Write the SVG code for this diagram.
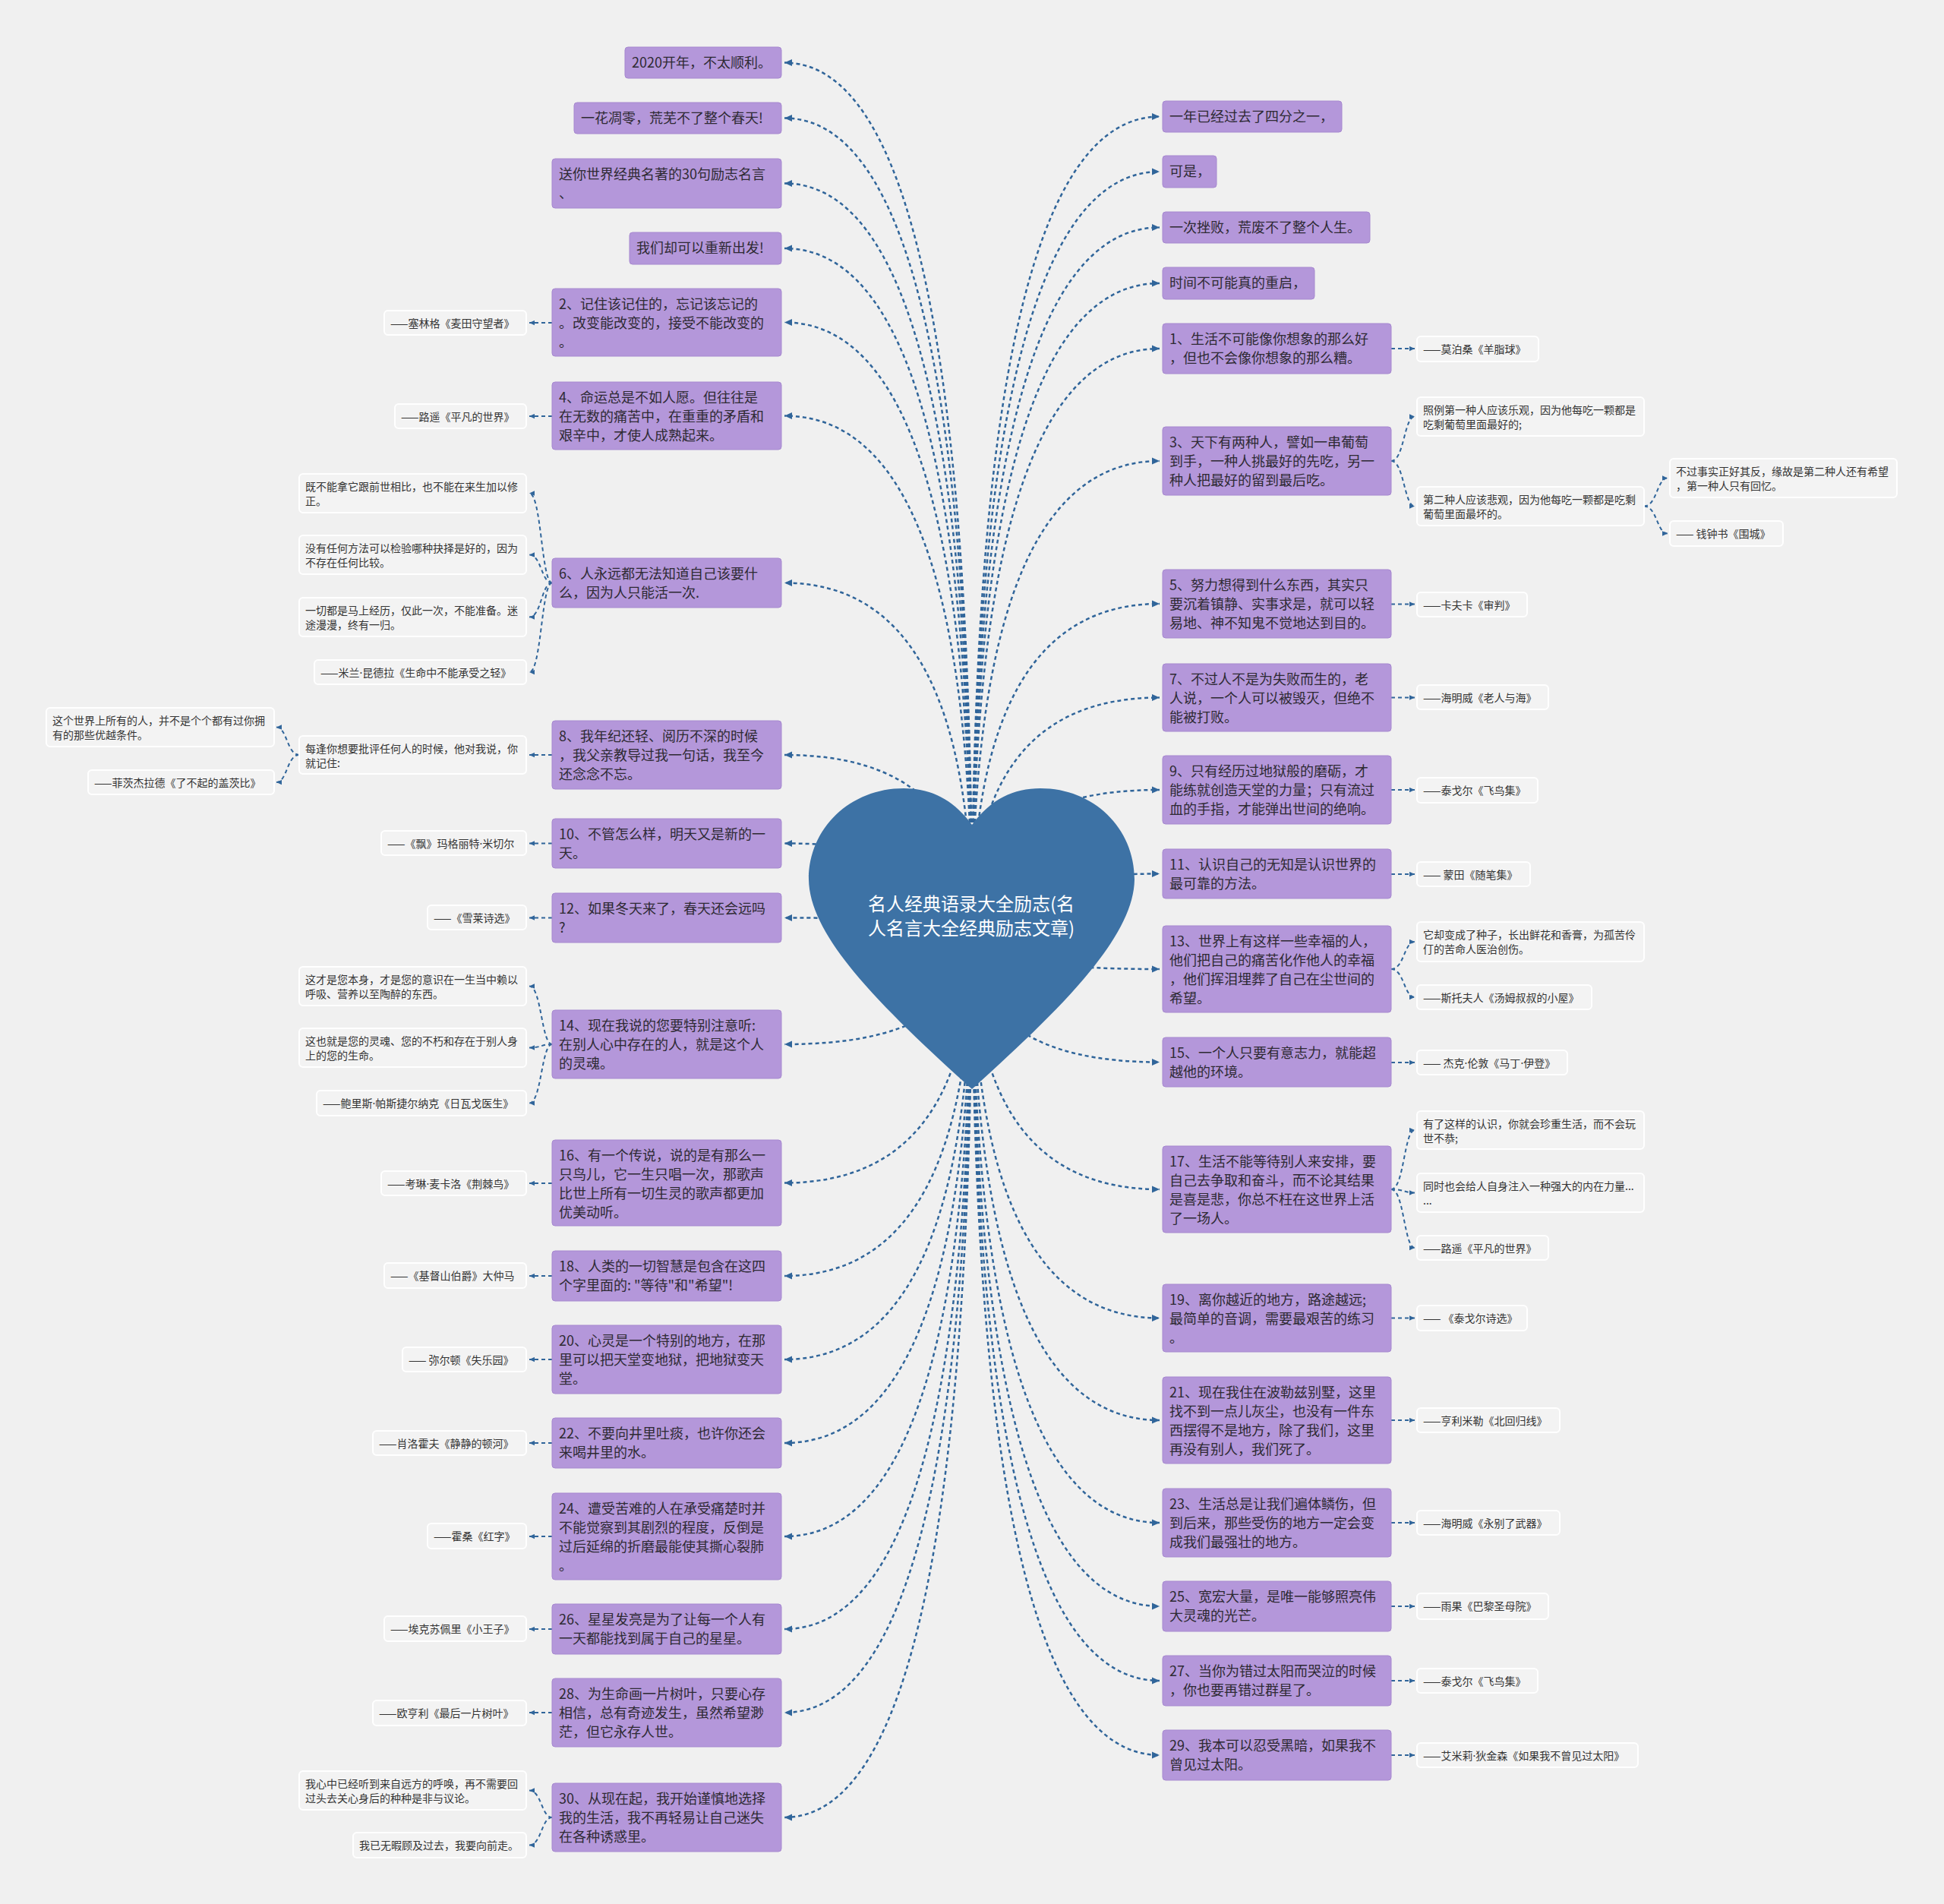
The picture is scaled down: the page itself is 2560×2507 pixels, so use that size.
<svg xmlns="http://www.w3.org/2000/svg" width="2560" height="2507" viewBox="0 0 2560 2507">
<defs>
<style>
.bg{fill:#f0f0f0}
.p{fill:#b497da;stroke:#a688cf;stroke-width:1}
.w{fill:#f3f3f3;stroke:#ffffff;stroke-width:2}
.pt{font-family:"Noto Sans CJK SC","Noto Sans",sans-serif;font-size:18px;fill:#2e2a33}
.wt{font-family:"Noto Sans CJK SC","Noto Sans",sans-serif;font-size:14px;fill:#333333}
.d{font-family:"Noto Sans","DejaVu Sans",sans-serif}
.rt{font-family:"Noto Sans CJK SC","Noto Sans",sans-serif;font-size:24px;fill:#ffffff;text-anchor:middle}
.c1{fill:none;stroke:#30659a;stroke-width:2.5;stroke-dasharray:5 4;marker-end:url(#a1)}
.c2{fill:none;stroke:#30659a;stroke-width:2;stroke-dasharray:5 4;marker-end:url(#a2)}
</style>
<marker id="a1" markerUnits="userSpaceOnUse" markerWidth="10" markerHeight="10" viewBox="0 0 10 10" refX="10" refY="5" orient="auto"><path d="M0,0.5 L10,5 L0,9.5 Z" fill="#30659a"/></marker>
<marker id="a2" markerUnits="userSpaceOnUse" markerWidth="7" markerHeight="7" viewBox="0 0 10 10" refX="10" refY="5" orient="auto"><path d="M0,0.5 L10,5 L0,9.5 Z" fill="#30659a"/></marker>
</defs>
<rect class="bg" x="0" y="0" width="2560" height="2507"/>
<g id="connectors">
<path class="c1" d="M1280,1227 Q1280,82.5 1033,82.5"/>
<path class="c1" d="M1280,1227 Q1280,155.5 1033,155.5"/>
<path class="c1" d="M1280,1227 Q1280,241.5 1033,241.5"/>
<path class="c1" d="M1280,1227 Q1280,327 1033,327"/>
<path class="c1" d="M1280,1227 Q1280,424.5 1033,424.5"/>
<path class="c1" d="M1280,1227 Q1280,547.5 1033,547.5"/>
<path class="c1" d="M1280,1227 Q1280,767.5 1033,767.5"/>
<path class="c1" d="M1280,1227 Q1280,994 1033,994"/>
<path class="c1" d="M1280,1227 Q1280,1110.5 1033,1110.5"/>
<path class="c1" d="M1280,1227 Q1280,1208.5 1033,1208.5"/>
<path class="c1" d="M1280,1227 Q1280,1375 1033,1375"/>
<path class="c1" d="M1280,1227 Q1280,1557.5 1033,1557.5"/>
<path class="c1" d="M1280,1227 Q1280,1680 1033,1680"/>
<path class="c1" d="M1280,1227 Q1280,1790 1033,1790"/>
<path class="c1" d="M1280,1227 Q1280,1900 1033,1900"/>
<path class="c1" d="M1280,1227 Q1280,2023 1033,2023"/>
<path class="c1" d="M1280,1227 Q1280,2145 1033,2145"/>
<path class="c1" d="M1280,1227 Q1280,2255 1033,2255"/>
<path class="c1" d="M1280,1227 Q1280,2393 1033,2393"/>
<path class="c1" d="M1280,1227 Q1280,153.5 1527,153.5"/>
<path class="c1" d="M1280,1227 Q1280,226 1527,226"/>
<path class="c1" d="M1280,1227 Q1280,299.5 1527,299.5"/>
<path class="c1" d="M1280,1227 Q1280,373 1527,373"/>
<path class="c1" d="M1280,1227 Q1280,459 1527,459"/>
<path class="c1" d="M1280,1227 Q1280,607 1527,607"/>
<path class="c1" d="M1280,1227 Q1280,795 1527,795"/>
<path class="c1" d="M1280,1227 Q1280,918.5 1527,918.5"/>
<path class="c1" d="M1280,1227 Q1280,1040 1527,1040"/>
<path class="c1" d="M1280,1227 Q1280,1150.5 1527,1150.5"/>
<path class="c1" d="M1280,1227 Q1280,1276 1527,1276"/>
<path class="c1" d="M1280,1227 Q1280,1398.5 1527,1398.5"/>
<path class="c1" d="M1280,1227 Q1280,1566 1527,1566"/>
<path class="c1" d="M1280,1227 Q1280,1735.5 1527,1735.5"/>
<path class="c1" d="M1280,1227 Q1280,1870 1527,1870"/>
<path class="c1" d="M1280,1227 Q1280,2005 1527,2005"/>
<path class="c1" d="M1280,1227 Q1280,2115 1527,2115"/>
<path class="c1" d="M1280,1227 Q1280,2213 1527,2213"/>
<path class="c1" d="M1280,1227 Q1280,2311 1527,2311"/>
<path class="c2" d="M727,425 L697,425"/>
<path class="c2" d="M727,548 L697,548"/>
<path class="c2" d="M727,767.5 C713,767.5 713,649.5 697,649.5"/>
<path class="c2" d="M727,767.5 C713,767.5 713,730.5 697,730.5"/>
<path class="c2" d="M727,767.5 C713,767.5 713,812.5 697,812.5"/>
<path class="c2" d="M727,767.5 C713,767.5 713,885 697,885"/>
<path class="c2" d="M727,994 L697,994"/>
<path class="c2" d="M394,994 C378,994 378,957.5 364,957.5"/>
<path class="c2" d="M394,994 C378,994 378,1030 364,1030"/>
<path class="c2" d="M727,1110.5 L697,1110.5"/>
<path class="c2" d="M727,1208.5 L697,1208.5"/>
<path class="c2" d="M727,1375 C713,1375 713,1298.5 697,1298.5"/>
<path class="c2" d="M727,1375 C713,1375 713,1379.5 697,1379.5"/>
<path class="c2" d="M727,1375 C713,1375 713,1452.5 697,1452.5"/>
<path class="c2" d="M727,1558 L697,1558"/>
<path class="c2" d="M727,1680 L697,1680"/>
<path class="c2" d="M727,1790 L697,1790"/>
<path class="c2" d="M727,1900 L697,1900"/>
<path class="c2" d="M727,2023 L697,2023"/>
<path class="c2" d="M727,2145 L697,2145"/>
<path class="c2" d="M727,2255 L697,2255"/>
<path class="c2" d="M727,2393 C713,2393 713,2357.5 697,2357.5"/>
<path class="c2" d="M727,2393 C713,2393 713,2429.5 697,2429.5"/>
<path class="c2" d="M1832,459 L1863,459"/>
<path class="c2" d="M1832,607 C1849,607 1849,548.5 1863,548.5"/>
<path class="c2" d="M1832,607 C1849,607 1849,666.5 1863,666.5"/>
<path class="c2" d="M2165,666.5 C2182,666.5 2182,629.5 2196,629.5"/>
<path class="c2" d="M2165,666.5 C2182,666.5 2182,702.5 2196,702.5"/>
<path class="c2" d="M1832,795.5 L1863,795.5"/>
<path class="c2" d="M1832,918.5 L1863,918.5"/>
<path class="c2" d="M1832,1040 L1863,1040"/>
<path class="c2" d="M1832,1151 L1863,1151"/>
<path class="c2" d="M1832,1276 C1849,1276 1849,1240 1863,1240"/>
<path class="c2" d="M1832,1276 C1849,1276 1849,1313 1863,1313"/>
<path class="c2" d="M1832,1399 L1863,1399"/>
<path class="c2" d="M1832,1566 C1849,1566 1849,1488 1863,1488"/>
<path class="c2" d="M1832,1566 C1849,1566 1849,1570.5 1863,1570.5"/>
<path class="c2" d="M1832,1566 C1849,1566 1849,1643 1863,1643"/>
<path class="c2" d="M1832,1735.5 L1863,1735.5"/>
<path class="c2" d="M1832,1870 L1863,1870"/>
<path class="c2" d="M1832,2005 L1863,2005"/>
<path class="c2" d="M1832,2115 L1863,2115"/>
<path class="c2" d="M1832,2213 L1863,2213"/>
<path class="c2" d="M1832,2311 L1863,2311"/>
</g>
<g id="root">
<path d="M1280,1086 C1255,1052 1225,1038 1190,1038 C1120,1038 1065,1090 1065,1158 C1066,1235 1165,1330 1280,1434 C1395,1330 1493,1235 1494,1158 C1494,1090 1440,1038 1370,1038 C1335,1038 1305,1052 1280,1086 Z" fill="#3d72a5"/>
<text class="rt"><tspan x="1279" y="1199">名人经典语录大全励志(名</tspan><tspan x="1279" y="1231">人名言大全经典励志文章)</tspan></text>
</g>
<g id="L1"><rect class="p" x="823" y="62" width="206" height="41" rx="4"/><text class="pt"><tspan x="832" y="89">2020开年，不太顺利。</tspan></text></g>
<g id="L2"><rect class="p" x="756" y="135" width="273" height="41" rx="4"/><text class="pt"><tspan x="765" y="162">一花凋零，荒芜不了整个春天!</tspan></text></g>
<g id="L3"><rect class="p" x="727" y="209" width="302" height="65" rx="4"/><text class="pt"><tspan x="736" y="236">送你世界经典名著的30句励志名言</tspan><tspan x="736" y="261">、</tspan></text></g>
<g id="L4"><rect class="p" x="829" y="306" width="200" height="42" rx="4"/><text class="pt"><tspan x="838" y="333">我们却可以重新出发!</tspan></text></g>
<g id="L5"><rect class="p" x="727" y="380" width="302" height="89" rx="4"/><text class="pt"><tspan x="736" y="407">2、记住该记住的，忘记该忘记的</tspan><tspan x="736" y="432">。改变能改变的，接受不能改变的</tspan><tspan x="736" y="457">。</tspan></text></g>
<g id="L5c"><rect class="w" x="506" y="409" width="187" height="32" rx="5"/><text class="wt"><tspan x="514" y="430.5">——塞林格《麦田守望者》</tspan></text></g>
<g id="L6"><rect class="p" x="727" y="503" width="302" height="89" rx="4"/><text class="pt"><tspan x="736" y="530">4、命运总是不如人愿。但往往是</tspan><tspan x="736" y="555">在无数的痛苦中，在重重的矛盾和</tspan><tspan x="736" y="580">艰辛中，才使人成熟起来。</tspan></text></g>
<g id="L6c"><rect class="w" x="520" y="532" width="173" height="32" rx="5"/><text class="wt"><tspan x="528" y="553.5">——路遥《平凡的世界》</tspan></text></g>
<g id="L7"><rect class="p" x="727" y="735" width="302" height="65" rx="4"/><text class="pt"><tspan x="736" y="762">6、人永远都无法知道自己该要什</tspan><tspan x="736" y="787">么，因为人只能活一次.</tspan></text></g>
<g id="L7c1"><rect class="w" x="394" y="624" width="299" height="51" rx="5"/><text class="wt"><tspan x="402" y="646">既不能拿它跟前世相比，也不能在来生加以修</tspan><tspan x="402" y="665">正。</tspan></text></g>
<g id="L7c2"><rect class="w" x="394" y="705" width="299" height="51" rx="5"/><text class="wt"><tspan x="402" y="727">没有任何方法可以检验哪种抉择是好的，因为</tspan><tspan x="402" y="746">不存在任何比较。</tspan></text></g>
<g id="L7c3"><rect class="w" x="394" y="787" width="299" height="51" rx="5"/><text class="wt"><tspan x="402" y="809">一切都是马上经历，仅此一次，不能准备。迷</tspan><tspan x="402" y="828">途漫漫，终有一归。</tspan></text></g>
<g id="L7c4"><rect class="w" x="414" y="869" width="279" height="32" rx="5"/><text class="wt" x="422" y="890.5">——米兰<tspan class="d">·</tspan>昆德拉《生命中不能承受之轻》</text></g>
<g id="L8"><rect class="p" x="727" y="949" width="302" height="90" rx="4"/><text class="pt"><tspan x="736" y="976">8、我年纪还轻、阅历不深的时候</tspan><tspan x="736" y="1001">，我父亲教导过我一句话，我至今</tspan><tspan x="736" y="1026">还念念不忘。</tspan></text></g>
<g id="L8c"><rect class="w" x="394" y="969" width="299" height="50" rx="5"/><text class="wt"><tspan x="402" y="991">每逢你想要批评任何人的时候，他对我说，你</tspan><tspan x="402" y="1010">就记住:</tspan></text></g>
<g id="L8g1"><rect class="w" x="61" y="932" width="300" height="51" rx="5"/><text class="wt"><tspan x="69" y="954">这个世界上所有的人，并不是个个都有过你拥</tspan><tspan x="69" y="973">有的那些优越条件。</tspan></text></g>
<g id="L8g2"><rect class="w" x="116" y="1014" width="245" height="32" rx="5"/><text class="wt"><tspan x="124" y="1035.5">——菲茨杰拉德《了不起的盖茨比》</tspan></text></g>
<g id="L9"><rect class="p" x="727" y="1078" width="302" height="65" rx="4"/><text class="pt"><tspan x="736" y="1105">10、不管怎么样，明天又是新的一</tspan><tspan x="736" y="1130">天。</tspan></text></g>
<g id="L9c"><rect class="w" x="502" y="1094" width="191" height="32" rx="5"/><text class="wt" x="510" y="1115.5">——《飘》玛格丽特<tspan class="d">·</tspan>米切尔</text></g>
<g id="L10"><rect class="p" x="727" y="1176" width="302" height="65" rx="4"/><text class="pt"><tspan x="736" y="1203">12、如果冬天来了，春天还会远吗</tspan><tspan x="736" y="1228">?</tspan></text></g>
<g id="L10c"><rect class="w" x="563" y="1192" width="130" height="32" rx="5"/><text class="wt"><tspan x="571" y="1213.5">——《雪莱诗选》</tspan></text></g>
<g id="L11"><rect class="p" x="727" y="1330" width="302" height="90" rx="4"/><text class="pt"><tspan x="736" y="1357">14、现在我说的您要特别注意听:</tspan><tspan x="736" y="1382">在别人心中存在的人，就是这个人</tspan><tspan x="736" y="1407">的灵魂。</tspan></text></g>
<g id="L11c1"><rect class="w" x="394" y="1273" width="299" height="51" rx="5"/><text class="wt"><tspan x="402" y="1295">这才是您本身，才是您的意识在一生当中赖以</tspan><tspan x="402" y="1314">呼吸、营养以至陶醉的东西。</tspan></text></g>
<g id="L11c2"><rect class="w" x="394" y="1354" width="299" height="51" rx="5"/><text class="wt"><tspan x="402" y="1376">这也就是您的灵魂、您的不朽和存在于别人身</tspan><tspan x="402" y="1395">上的您的生命。</tspan></text></g>
<g id="L11c3"><rect class="w" x="417" y="1436" width="276" height="33" rx="5"/><text class="wt" x="425" y="1458">——鲍里斯<tspan class="d">·</tspan>帕斯捷尔纳克《日瓦戈医生》</text></g>
<g id="L12"><rect class="p" x="727" y="1501" width="302" height="113" rx="4"/><text class="pt"><tspan x="736" y="1528">16、有一个传说，说的是有那么一</tspan><tspan x="736" y="1553">只鸟儿，它一生只唱一次，那歌声</tspan><tspan x="736" y="1578">比世上所有一切生灵的歌声都更加</tspan><tspan x="736" y="1603">优美动听。</tspan></text></g>
<g id="L12c"><rect class="w" x="502" y="1542" width="191" height="32" rx="5"/><text class="wt" x="510" y="1563.5">——考琳<tspan class="d">·</tspan>麦卡洛《荆棘鸟》</text></g>
<g id="L13"><rect class="p" x="727" y="1647" width="302" height="66" rx="4"/><text class="pt"><tspan x="736" y="1674">18、人类的一切智慧是包含在这四</tspan><tspan x="736" y="1699">个字里面的: "等待"和"希望"!</tspan></text></g>
<g id="L13c"><rect class="w" x="506" y="1663" width="187" height="33" rx="5"/><text class="wt"><tspan x="514" y="1685">——《基督山伯爵》大仲马</tspan></text></g>
<g id="L14"><rect class="p" x="727" y="1745" width="302" height="90" rx="4"/><text class="pt"><tspan x="736" y="1772">20、心灵是一个特别的地方，在那</tspan><tspan x="736" y="1797">里可以把天堂变地狱，把地狱变天</tspan><tspan x="736" y="1822">堂。</tspan></text></g>
<g id="L14c"><rect class="w" x="530" y="1774" width="163" height="32" rx="5"/><text class="wt"><tspan x="538" y="1795.5">—— 弥尔顿《失乐园》</tspan></text></g>
<g id="L15"><rect class="p" x="727" y="1867" width="302" height="66" rx="4"/><text class="pt"><tspan x="736" y="1894">22、不要向井里吐痰，也许你还会</tspan><tspan x="736" y="1919">来喝井里的水。</tspan></text></g>
<g id="L15c"><rect class="w" x="491" y="1884" width="202" height="32" rx="5"/><text class="wt"><tspan x="499" y="1905.5">——肖洛霍夫《静静的顿河》</tspan></text></g>
<g id="L16"><rect class="p" x="727" y="1966" width="302" height="114" rx="4"/><text class="pt"><tspan x="736" y="1993">24、遭受苦难的人在承受痛楚时并</tspan><tspan x="736" y="2018">不能觉察到其剧烈的程度，反倒是</tspan><tspan x="736" y="2043">过后延绵的折磨最能使其撕心裂肺</tspan><tspan x="736" y="2068">。</tspan></text></g>
<g id="L16c"><rect class="w" x="563" y="2006" width="130" height="33" rx="5"/><text class="wt"><tspan x="571" y="2028">——霍桑《红字》</tspan></text></g>
<g id="L17"><rect class="p" x="727" y="2112" width="302" height="66" rx="4"/><text class="pt"><tspan x="736" y="2139">26、星星发亮是为了让每一个人有</tspan><tspan x="736" y="2164">一天都能找到属于自己的星星。</tspan></text></g>
<g id="L17c"><rect class="w" x="506" y="2128" width="187" height="33" rx="5"/><text class="wt"><tspan x="514" y="2150">——埃克苏佩里《小王子》</tspan></text></g>
<g id="L18"><rect class="p" x="727" y="2210" width="302" height="90" rx="4"/><text class="pt"><tspan x="736" y="2237">28、为生命画一片树叶，只要心存</tspan><tspan x="736" y="2262">相信，总有奇迹发生，虽然希望渺</tspan><tspan x="736" y="2287">茫，但它永存人世。</tspan></text></g>
<g id="L18c"><rect class="w" x="491" y="2239" width="202" height="33" rx="5"/><text class="wt"><tspan x="499" y="2261">——欧亨利《最后一片树叶》</tspan></text></g>
<g id="L19"><rect class="p" x="727" y="2348" width="302" height="90" rx="4"/><text class="pt"><tspan x="736" y="2375">30、从现在起，我开始谨慎地选择</tspan><tspan x="736" y="2400">我的生活，我不再轻易让自己迷失</tspan><tspan x="736" y="2425">在各种诱惑里。</tspan></text></g>
<g id="L19c1"><rect class="w" x="394" y="2332" width="299" height="51" rx="5"/><text class="wt"><tspan x="402" y="2354">我心中已经听到来自远方的呼唤，再不需要回</tspan><tspan x="402" y="2373">过头去关心身后的种种是非与议论。</tspan></text></g>
<g id="L19c2"><rect class="w" x="465" y="2413" width="228" height="33" rx="5"/><text class="wt"><tspan x="473" y="2435">我已无暇顾及过去，我要向前走。</tspan></text></g>
<g id="R1"><rect class="p" x="1531" y="133" width="236" height="41" rx="4"/><text class="pt"><tspan x="1540" y="160">一年已经过去了四分之一，</tspan></text></g>
<g id="R2"><rect class="p" x="1531" y="205" width="71" height="42" rx="4"/><text class="pt"><tspan x="1540" y="232">可是，</tspan></text></g>
<g id="R3"><rect class="p" x="1531" y="279" width="273" height="41" rx="4"/><text class="pt"><tspan x="1540" y="306">一次挫败，荒废不了整个人生。</tspan></text></g>
<g id="R4"><rect class="p" x="1531" y="352" width="200" height="42" rx="4"/><text class="pt"><tspan x="1540" y="379">时间不可能真的重启，</tspan></text></g>
<g id="R5"><rect class="p" x="1531" y="426" width="301" height="66" rx="4"/><text class="pt"><tspan x="1540" y="453">1、生活不可能像你想象的那么好</tspan><tspan x="1540" y="478">，但也不会像你想象的那么糟。</tspan></text></g>
<g id="R5c"><rect class="w" x="1866" y="443" width="160" height="33" rx="5"/><text class="wt"><tspan x="1874" y="465">——莫泊桑《羊脂球》</tspan></text></g>
<g id="R6"><rect class="p" x="1531" y="562" width="301" height="90" rx="4"/><text class="pt"><tspan x="1540" y="589">3、天下有两种人，譬如一串葡萄</tspan><tspan x="1540" y="614">到手，一种人挑最好的先吃，另一</tspan><tspan x="1540" y="639">种人把最好的留到最后吃。</tspan></text></g>
<g id="R6ca"><rect class="w" x="1866" y="523" width="299" height="51" rx="5"/><text class="wt"><tspan x="1874" y="545">照例第一种人应该乐观，因为他每吃一颗都是</tspan><tspan x="1874" y="564">吃剩葡萄里面最好的;</tspan></text></g>
<g id="R6cb"><rect class="w" x="1866" y="641" width="299" height="51" rx="5"/><text class="wt"><tspan x="1874" y="663">第二种人应该悲观，因为他每吃一颗都是吃剩</tspan><tspan x="1874" y="682">葡萄里面最坏的。</tspan></text></g>
<g id="R6g1"><rect class="w" x="2199" y="604" width="299" height="51" rx="5"/><text class="wt"><tspan x="2207" y="626">不过事实正好其反，缘故是第二种人还有希望</tspan><tspan x="2207" y="645">，第一种人只有回忆。</tspan></text></g>
<g id="R6g2"><rect class="w" x="2199" y="686" width="149" height="33" rx="5"/><text class="wt"><tspan x="2207" y="708">—— 钱钟书《围城》</tspan></text></g>
<g id="R7"><rect class="p" x="1531" y="750" width="301" height="90" rx="4"/><text class="pt"><tspan x="1540" y="777">5、努力想得到什么东西，其实只</tspan><tspan x="1540" y="802">要沉着镇静、实事求是，就可以轻</tspan><tspan x="1540" y="827">易地、神不知鬼不觉地达到目的。</tspan></text></g>
<g id="R7c"><rect class="w" x="1866" y="780" width="145" height="32" rx="5"/><text class="wt"><tspan x="1874" y="801.5">——卡夫卡《审判》</tspan></text></g>
<g id="R8"><rect class="p" x="1531" y="874" width="301" height="89" rx="4"/><text class="pt"><tspan x="1540" y="901">7、不过人不是为失败而生的，老</tspan><tspan x="1540" y="926">人说，一个人可以被毁灭，但绝不</tspan><tspan x="1540" y="951">能被打败。</tspan></text></g>
<g id="R8c"><rect class="w" x="1866" y="902" width="173" height="32" rx="5"/><text class="wt"><tspan x="1874" y="923.5">——海明威《老人与海》</tspan></text></g>
<g id="R9"><rect class="p" x="1531" y="995" width="301" height="90" rx="4"/><text class="pt"><tspan x="1540" y="1022">9、只有经历过地狱般的磨砺，才</tspan><tspan x="1540" y="1047">能练就创造天堂的力量；只有流过</tspan><tspan x="1540" y="1072">血的手指，才能弹出世间的绝响。</tspan></text></g>
<g id="R9c"><rect class="w" x="1866" y="1024" width="159" height="33" rx="5"/><text class="wt"><tspan x="1874" y="1046">——泰戈尔《飞鸟集》</tspan></text></g>
<g id="R10"><rect class="p" x="1531" y="1118" width="301" height="65" rx="4"/><text class="pt"><tspan x="1540" y="1145">11、认识自己的无知是认识世界的</tspan><tspan x="1540" y="1170">最可靠的方法。</tspan></text></g>
<g id="R10c"><rect class="w" x="1866" y="1135" width="149" height="32" rx="5"/><text class="wt"><tspan x="1874" y="1156.5">—— 蒙田《随笔集》</tspan></text></g>
<g id="R11"><rect class="p" x="1531" y="1219" width="301" height="114" rx="4"/><text class="pt"><tspan x="1540" y="1246">13、世界上有这样一些幸福的人，</tspan><tspan x="1540" y="1271">他们把自己的痛苦化作他人的幸福</tspan><tspan x="1540" y="1296">，他们挥泪埋葬了自己在尘世间的</tspan><tspan x="1540" y="1321">希望。</tspan></text></g>
<g id="R11ca"><rect class="w" x="1866" y="1214" width="299" height="52" rx="5"/><text class="wt"><tspan x="1874" y="1236">它却变成了种子，长出鲜花和香膏，为孤苦伶</tspan><tspan x="1874" y="1255">仃的苦命人医治创伤。</tspan></text></g>
<g id="R11cb"><rect class="w" x="1866" y="1297" width="230" height="32" rx="5"/><text class="wt"><tspan x="1874" y="1318.5">——斯托夫人《汤姆叔叔的小屋》</tspan></text></g>
<g id="R12"><rect class="p" x="1531" y="1366" width="301" height="65" rx="4"/><text class="pt"><tspan x="1540" y="1393">15、一个人只要有意志力，就能超</tspan><tspan x="1540" y="1418">越他的环境。</tspan></text></g>
<g id="R12c"><rect class="w" x="1866" y="1383" width="198" height="32" rx="5"/><text class="wt" x="1874" y="1404.5">—— 杰克<tspan class="d">·</tspan>伦敦《马丁<tspan class="d">·</tspan>伊登》</text></g>
<g id="R13"><rect class="p" x="1531" y="1509" width="301" height="114" rx="4"/><text class="pt"><tspan x="1540" y="1536">17、生活不能等待别人来安排，要</tspan><tspan x="1540" y="1561">自己去争取和奋斗，而不论其结果</tspan><tspan x="1540" y="1586">是喜是悲，你总不枉在这世界上活</tspan><tspan x="1540" y="1611">了一场人。</tspan></text></g>
<g id="R13ca"><rect class="w" x="1866" y="1463" width="299" height="50" rx="5"/><text class="wt"><tspan x="1874" y="1485">有了这样的认识，你就会珍重生活，而不会玩</tspan><tspan x="1874" y="1504">世不恭;</tspan></text></g>
<g id="R13cb"><rect class="w" x="1866" y="1545" width="299" height="51" rx="5"/><text class="wt"><tspan x="1874" y="1567">同时也会给人自身注入一种强大的内在力量...</tspan><tspan x="1874" y="1586">...</tspan></text></g>
<g id="R13cc"><rect class="w" x="1866" y="1627" width="173" height="32" rx="5"/><text class="wt"><tspan x="1874" y="1648.5">——路遥《平凡的世界》</tspan></text></g>
<g id="R14"><rect class="p" x="1531" y="1691" width="301" height="89" rx="4"/><text class="pt"><tspan x="1540" y="1718">19、离你越近的地方，路途越远;</tspan><tspan x="1540" y="1743">最简单的音调，需要最艰苦的练习</tspan><tspan x="1540" y="1768">。</tspan></text></g>
<g id="R14c"><rect class="w" x="1866" y="1719" width="145" height="33" rx="5"/><text class="wt"><tspan x="1874" y="1741">—— 《泰戈尔诗选》</tspan></text></g>
<g id="R15"><rect class="p" x="1531" y="1813" width="301" height="114" rx="4"/><text class="pt"><tspan x="1540" y="1840">21、现在我住在波勒兹别墅，这里</tspan><tspan x="1540" y="1865">找不到一点儿灰尘，也没有一件东</tspan><tspan x="1540" y="1890">西摆得不是地方，除了我们，这里</tspan><tspan x="1540" y="1915">再没有别人，我们死了。</tspan></text></g>
<g id="R15c"><rect class="w" x="1866" y="1854" width="188" height="32" rx="5"/><text class="wt"><tspan x="1874" y="1875.5">——亨利米勒《北回归线》</tspan></text></g>
<g id="R16"><rect class="p" x="1531" y="1960" width="301" height="90" rx="4"/><text class="pt"><tspan x="1540" y="1987">23、生活总是让我们遍体鳞伤，但</tspan><tspan x="1540" y="2012">到后来，那些受伤的地方一定会变</tspan><tspan x="1540" y="2037">成我们最强壮的地方。</tspan></text></g>
<g id="R16c"><rect class="w" x="1866" y="1989" width="188" height="32" rx="5"/><text class="wt"><tspan x="1874" y="2010.5">——海明威《永别了武器》</tspan></text></g>
<g id="R17"><rect class="p" x="1531" y="2082" width="301" height="66" rx="4"/><text class="pt"><tspan x="1540" y="2109">25、宽宏大量，是唯一能够照亮伟</tspan><tspan x="1540" y="2134">大灵魂的光芒。</tspan></text></g>
<g id="R17c"><rect class="w" x="1866" y="2098" width="173" height="34" rx="5"/><text class="wt"><tspan x="1874" y="2120">——雨果《巴黎圣母院》</tspan></text></g>
<g id="R18"><rect class="p" x="1531" y="2180" width="301" height="66" rx="4"/><text class="pt"><tspan x="1540" y="2207">27、当你为错过太阳而哭泣的时候</tspan><tspan x="1540" y="2232">，你也要再错过群星了。</tspan></text></g>
<g id="R18c"><rect class="w" x="1866" y="2197" width="159" height="32" rx="5"/><text class="wt"><tspan x="1874" y="2218.5">——泰戈尔《飞鸟集》</tspan></text></g>
<g id="R19"><rect class="p" x="1531" y="2278" width="301" height="66" rx="4"/><text class="pt"><tspan x="1540" y="2305">29、我本可以忍受黑暗，如果我不</tspan><tspan x="1540" y="2330">曾见过太阳。</tspan></text></g>
<g id="R19c"><rect class="w" x="1866" y="2295" width="291" height="32" rx="5"/><text class="wt" x="1874" y="2316.5">——艾米莉<tspan class="d">·</tspan>狄金森《如果我不曾见过太阳》</text></g>
</svg>
